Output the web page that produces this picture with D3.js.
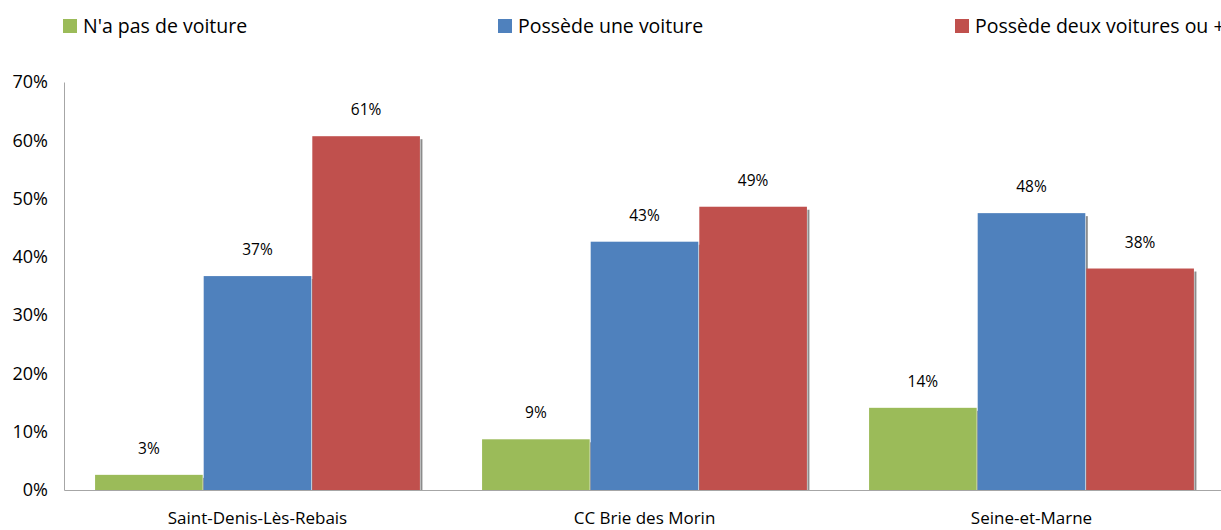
<!DOCTYPE html>
<html>
<head>
<meta charset="utf-8">
<script src="https://cdn.jsdelivr.net/npm/d3@7"></script>
<style>
  body { margin: 0; background: #fff; }
  svg { font-family: "Open Sans", "Noto Sans", sans-serif; }
</style>
</head>
<body>
<svg width="1221" height="530"></svg>
<script>
// categories and series (share of households, %)
let communes = ['Saint-Denis-Lès-Rebais', 'CC Brie des Morin', 'Seine-et-Marne'];
let seriesNames = ["N'a pas de voiture", 'Possède une voiture', 'Possède deux voitures ou +'];
let noCar = [2.6, 8.7, 14.1];
let oneCar = [36.7, 42.6, 47.5];
let twoCars = [60.7, 48.6, 38.0];
let yTicks = [0, 10, 20, 30, 40, 50, 60, 70];
let colors = ['#9bbb59', '#4f81bd', '#c0504d'];

let plotLeft = 64;
let plotTop = 82;
let plotBottom = 490;

let seriesValues = [noCar, oneCar, twoCars];
let rows = communes.map((c, i) => ({
  commune: c,
  values: seriesValues.map((s, j) => ({ key: j, value: s[i] }))
}));

let svg = d3.select('svg');

let x0 = d3.scaleBand()
  .domain(communes)
  .range([plotLeft, 1225])
  .paddingInner(0.158)
  .paddingOuter(0.079);

let x1 = d3.scaleBand()
  .domain(d3.range(seriesNames.length))
  .range([0, x0.bandwidth()]);

let y = d3.scaleLinear()
  .domain([0, 70])
  .range([plotBottom, plotTop]);

// y axis
let yAxis = d3.axisLeft(y)
  .tickValues(yTicks)
  .tickSize(0)
  .tickPadding(16)
  .tickFormat(d => d + '%');

svg.append('g')
  .attr('transform', 'translate(' + plotLeft + ',0)')
  .call(yAxis)
  .call(g => g.select('.domain').attr('stroke', '#a6a6a6'))
  .selectAll('text')
  .style('font-size', '18px')
  .style('font-family', '"Open Sans", sans-serif')
  .attr('fill', '#000');

// bars
let groups = svg.append('g')
  .selectAll('g')
  .data(rows)
  .enter()
  .append('g')
  .attr('transform', d => 'translate(' + x0(d.commune) + ',0)');

// shadow on the right side of each bar
groups.selectAll('rect.shadow')
  .data(d => d.values)
  .enter()
  .append('rect')
  .attr('class', 'shadow')
  .attr('x', d => x1(d.key) + x1.bandwidth())
  .attr('y', d => y(d.value) + 3)
  .attr('width', 2)
  .attr('height', d => plotBottom - y(d.value) - 3)
  .attr('fill', '#8c8c8c');

groups.selectAll('rect.bar')
  .data(d => d.values)
  .enter()
  .append('rect')
  .attr('class', 'bar')
  .attr('x', d => x1(d.key) + 0.5)
  .attr('y', d => y(d.value))
  .attr('width', x1.bandwidth() - 1)
  .attr('height', d => plotBottom - y(d.value))
  .attr('fill', d => colors[d.key]);

groups.selectAll('text')
  .data(d => d.values)
  .enter()
  .append('text')
  .attr('x', d => x1(d.key) + x1.bandwidth() / 2)
  .attr('y', d => y(d.value) - 21)
  .style('text-anchor', 'middle')
  .style('font-size', '15.5px')
  .text(d => Math.round(d.value) + '%');

// x axis
let xAxis = d3.axisBottom(x0).tickSize(0).tickPadding(22);

svg.append('g')
  .attr('transform', 'translate(0,' + plotBottom + ')')
  .call(xAxis)
  .call(g => g.select('.domain').attr('stroke', '#a6a6a6'))
  .selectAll('text')
  .style('font-size', '17px')
  .style('font-family', '"Open Sans", sans-serif')
  .attr('fill', '#000');

// legend (the last entry runs past the right edge, as in the original)
let legendX = [63, 498, 955];
let legend = svg.append('g')
  .selectAll('g')
  .data(seriesNames)
  .enter()
  .append('g')
  .attr('transform', (d, i) => 'translate(' + legendX[i] + ',19)');

legend.append('rect')
  .attr('width', 14)
  .attr('height', 14)
  .attr('fill', (d, i) => colors[i]);

legend.append('text')
  .attr('x', 20)
  .attr('y', 14)
  .style('font-size', '19.5px')
  .text(d => d);
</script>
</body>
</html>
